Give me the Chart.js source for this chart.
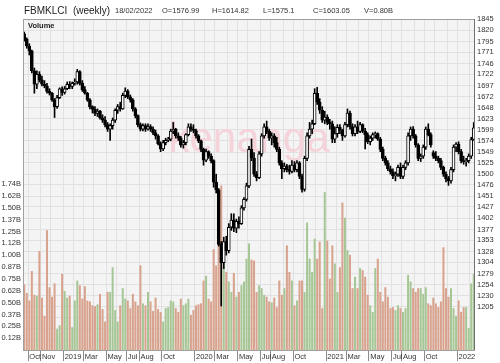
<!DOCTYPE html>
<html>
<head>
<meta charset="utf-8">
<script src="https://cdn.jsdelivr.net/npm/chart.js@4.4.1/dist/chart.umd.min.js"></script>
<style>
    html, body { margin: 0; padding: 0; background: #fff; }
    #wrap { width: 500px; height: 363px; position: relative; }
</style>
</head>
<body>
<div id="wrap"><canvas id="chart"></canvas></div>
<script>
// ==================== DATOS ====================
const symbol = 'FBMKLCI';
const period = '(weekly)';
const firstWeek = '2018-09-21'; // first weekly candle (Friday)

const opens = [
    1812, 1800, 1785, 1774, 1730, 1700, 1722, 1710, 1700, 1696,
    1684, 1680, 1665, 1650, 1670, 1690, 1682, 1690, 1700, 1695,
    1702, 1705, 1728, 1702, 1688, 1680, 1665, 1650, 1644, 1635,
    1640, 1625, 1620, 1610, 1600, 1608, 1620, 1642, 1650, 1645,
    1675, 1685, 1672, 1665, 1645, 1630, 1610, 1600, 1608, 1600,
    1606, 1600, 1592, 1585, 1568, 1556, 1570, 1575, 1578, 1596,
    1600, 1585, 1580, 1565, 1570, 1588, 1605, 1600, 1597, 1585,
    1574, 1555, 1531, 1550, 1540, 1530, 1482, 1465, 1344, 1303,
    1350, 1330, 1382, 1398, 1380, 1395, 1390, 1425, 1444, 1474,
    1555, 1536, 1500, 1492, 1545, 1585, 1605, 1595, 1580, 1585,
    1570, 1555, 1525, 1512, 1518, 1510, 1506, 1520, 1510, 1525,
    1495, 1466, 1535, 1585, 1600, 1612, 1680, 1660, 1642, 1620,
    1627, 1615, 1612, 1578, 1590, 1604, 1598, 1585, 1610, 1636,
    1605, 1590, 1605, 1595, 1610, 1596, 1588, 1572, 1580, 1588,
    1590, 1578, 1555, 1535, 1525, 1512, 1505, 1496, 1500, 1515,
    1495, 1515, 1525, 1585, 1600, 1585, 1565, 1535, 1540, 1560,
    1600, 1588, 1548, 1540, 1535, 1530, 1515, 1500, 1490, 1485,
    1510, 1560, 1567, 1550, 1530, 1528, 1530, 1540, 1576.99
];
const highs = [
    1816, 1803, 1790, 1776, 1736, 1730, 1728, 1718, 1708, 1702,
    1690, 1682, 1668, 1675, 1692, 1694, 1695, 1705, 1706, 1705,
    1712, 1733, 1730, 1708, 1695, 1682, 1668, 1652, 1650, 1645,
    1642, 1632, 1628, 1615, 1612, 1625, 1645, 1655, 1660, 1680,
    1692, 1688, 1676, 1668, 1648, 1632, 1614, 1612, 1612, 1612,
    1610, 1605, 1598, 1588, 1572, 1575, 1580, 1582, 1600, 1615,
    1602, 1592, 1584, 1575, 1590, 1612, 1612, 1610, 1600, 1588,
    1576, 1558, 1556, 1552, 1545, 1532, 1500, 1468, 1350, 1360,
    1362, 1390, 1412, 1412, 1400, 1405, 1430, 1448, 1480, 1562,
    1578, 1548, 1506, 1550, 1590, 1612, 1618, 1600, 1592, 1590,
    1582, 1560, 1530, 1525, 1522, 1520, 1530, 1528, 1530, 1528,
    1500, 1540, 1592, 1615, 1620, 1690, 1693, 1668, 1650, 1640,
    1632, 1622, 1618, 1605, 1610, 1610, 1600, 1615, 1645, 1640,
    1612, 1610, 1618, 1615, 1612, 1602, 1592, 1585, 1592, 1594,
    1592, 1582, 1560, 1540, 1530, 1518, 1512, 1505, 1520, 1525,
    1520, 1530, 1592, 1605, 1606, 1588, 1568, 1545, 1565, 1605,
    1612, 1592, 1552, 1550, 1540, 1535, 1518, 1505, 1495, 1515,
    1565, 1570, 1572, 1555, 1540, 1535, 1545, 1582, 1614.82
];
const lows = [
    1796, 1780, 1765, 1725, 1680, 1690, 1705, 1696, 1692, 1680,
    1676, 1662, 1626, 1646, 1668, 1675, 1678, 1688, 1690, 1690,
    1698, 1700, 1698, 1684, 1678, 1662, 1645, 1636, 1630, 1628,
    1622, 1615, 1605, 1595, 1575, 1600, 1615, 1635, 1640, 1644,
    1670, 1668, 1660, 1640, 1625, 1605, 1596, 1596, 1595, 1598,
    1595, 1588, 1578, 1565, 1550, 1552, 1565, 1572, 1574, 1590,
    1580, 1575, 1560, 1558, 1565, 1585, 1595, 1592, 1580, 1570,
    1550, 1520, 1528, 1535, 1525, 1471, 1458, 1340, 1207, 1290,
    1320, 1325, 1375, 1372, 1370, 1380, 1388, 1420, 1440, 1470,
    1530, 1495, 1485, 1490, 1540, 1580, 1590, 1575, 1565, 1560,
    1550, 1520, 1490, 1505, 1505, 1500, 1503, 1505, 1505, 1490,
    1460, 1462, 1530, 1580, 1590, 1610, 1655, 1635, 1615, 1612,
    1610, 1600, 1570, 1570, 1582, 1590, 1575, 1582, 1605, 1600,
    1585, 1585, 1590, 1592, 1592, 1556, 1568, 1565, 1575, 1580,
    1575, 1550, 1530, 1520, 1508, 1500, 1490, 1485, 1495, 1490,
    1490, 1510, 1520, 1575, 1580, 1560, 1530, 1528, 1535, 1555,
    1585, 1560, 1535, 1530, 1525, 1510, 1495, 1483, 1475, 1480,
    1505, 1550, 1545, 1525, 1522, 1518, 1525, 1535, 1575.1
];
const closes = [
    1800, 1785, 1774, 1730, 1700, 1722, 1710, 1700, 1696, 1684,
    1680, 1665, 1650, 1670, 1690, 1682, 1690, 1700, 1695, 1702,
    1705, 1728, 1702, 1688, 1680, 1665, 1650, 1644, 1635, 1640,
    1625, 1620, 1610, 1600, 1608, 1620, 1642, 1650, 1645, 1675,
    1685, 1672, 1665, 1645, 1630, 1610, 1600, 1608, 1600, 1606,
    1600, 1592, 1585, 1568, 1556, 1570, 1575, 1578, 1596, 1600,
    1585, 1580, 1565, 1570, 1588, 1605, 1600, 1597, 1585, 1574,
    1555, 1531, 1550, 1540, 1530, 1482, 1465, 1344, 1303, 1350,
    1330, 1382, 1398, 1380, 1395, 1390, 1425, 1444, 1474, 1555,
    1536, 1500, 1492, 1545, 1585, 1605, 1595, 1580, 1585, 1570,
    1555, 1525, 1512, 1518, 1510, 1506, 1520, 1510, 1525, 1495,
    1466, 1535, 1585, 1600, 1612, 1680, 1660, 1642, 1620, 1627,
    1615, 1612, 1578, 1590, 1604, 1598, 1585, 1610, 1636, 1605,
    1590, 1605, 1595, 1610, 1596, 1588, 1572, 1580, 1588, 1590,
    1578, 1555, 1535, 1525, 1512, 1505, 1496, 1500, 1515, 1495,
    1515, 1525, 1585, 1600, 1585, 1565, 1535, 1540, 1560, 1600,
    1588, 1565, 1540, 1535, 1530, 1515, 1500, 1490, 1485, 1510,
    1560, 1567, 1550, 1530, 1528, 1530, 1540, 1577, 1603.05
];
// weekly volume, billions
const volumes = [
    0.69, 0.60, 0.52, 0.83, 0.58, 0.57, 1.04, 0.55, 0.36, 1.26,
    0.66, 0.56, 0.70, 0.22, 0.26, 0.80, 0.62, 0.55, 0.57, 0.24,
    0.52, 0.73, 0.68, 0.54, 0.67, 0.52, 0.51, 0.47, 0.46, 0.48,
    0.59, 0.43, 0.30, 0.61, 0.61, 0.87, 0.42, 0.30, 0.47, 0.65,
    0.54, 0.52, 0.44, 0.59, 0.51, 0.47, 0.89, 0.49, 0.47, 0.61,
    0.51, 0.41, 0.55, 0.43, 0.40, 0.30, 0.44, 0.45, 0.52, 0.51,
    0.44, 0.40, 0.54, 0.47, 0.49, 0.54, 0.37, 0.42, 0.47, 0.48,
    0.49, 0.73, 0.78, 0.54, 0.51, 1.06, 0.89, 1.12, 1.73, 1.00,
    0.82, 0.72, 0.61, 0.81, 0.56, 0.61, 0.68, 0.72, 0.96, 1.12,
    0.95, 0.94, 0.61, 0.68, 0.65, 0.58, 0.56, 0.51, 0.50, 0.55,
    0.45, 0.73, 0.58, 0.65, 1.10, 0.82, 0.73, 0.47, 0.52, 0.73,
    0.73, 0.61, 1.34, 0.96, 0.82, 1.17, 0.96, 1.14, 0.44, 1.66,
    1.15, 0.75, 1.10, 0.91, 0.61, 0.87, 1.55, 1.39, 1.05, 1.00,
    0.65, 0.77, 0.65, 0.86, 0.84, 0.77, 0.58, 0.47, 0.40, 0.86,
    0.96, 0.61, 0.51, 0.66, 0.56, 0.44, 0.45, 0.42, 0.47, 0.44,
    0.40, 0.44, 0.79, 0.72, 0.65, 0.61, 0.65, 0.65, 0.59, 0.66,
    0.49, 0.47, 0.55, 0.49, 0.45, 0.51, 1.08, 0.65, 0.56, 0.65,
    0.44, 0.36, 0.52, 0.40, 0.45, 0.45, 0.23, 0.70, 0.80
];

// ejes
const priceTicks = [1845, 1820, 1795, 1771, 1746, 1722, 1697, 1672, 1648, 1623, 1599, 1574, 1549, 1525,
                    1500, 1476, 1451, 1427, 1402, 1377, 1353, 1328, 1304, 1279, 1254, 1230, 1205];
const priceGridOnly = [1181, 1156, 1131];
const volTicks = [0.1246, 0.2492, 0.3738, 0.4984, 0.623, 0.7476, 0.8722, 0.9968,
                  1.1214, 1.246, 1.3706, 1.4952, 1.6198, 1.7444];
const monthLabels = [
    ['2018-10', 'Oct'], ['2018-11', 'Nov'], ['2019-01', '2019'], ['2019-03', 'Mar'],
    ['2019-05', 'May'], ['2019-07', 'Jul'], ['2019-08', 'Aug'], ['2019-10', 'Oct'],
    ['2020-01', '2020'], ['2020-03', 'Mar'], ['2020-05', 'May'], ['2020-07', 'Jul'],
    ['2020-08', 'Aug'], ['2020-10', 'Oct'], ['2021-01', '2021'], ['2021-03', 'Mar'],
    ['2021-05', 'May'], ['2021-07', 'Jul'], ['2021-08', 'Aug'], ['2021-10', 'Oct'],
    ['2022-01', '2022']
];

// ==================== PREPARACIÓN ====================
const FONT = '"Liberation Sans", Arial, sans-serif';
const UP_VOL = '#a6c795';
const DOWN_VOL = '#d8a28d';
const DAY = 86400000;

const weeks = [];     // Friday of each week
const mondays = [];   // Monday of each week, decides the month
const t0 = Date.parse(firstWeek + 'T00:00:00Z');
for (let i = 0; i < closes.length; i++) {
    weeks.push(new Date(t0 + i * 7 * DAY).toISOString().slice(0, 10));
    mondays.push(new Date(t0 + (i * 7 - 4) * DAY).toISOString().slice(0, 7));
}

const labelMap = Object.fromEntries(monthLabels);
const monthStart = mondays.map((m, i) => i > 0 && m !== mondays[i - 1]);
const tickLabel = mondays.map((m, i) => (monthStart[i] && labelMap[m]) || '');

const isUp = closes.map((c, i) => c >= opens[i]);
const bodyColors = isUp.map(u => u ? '#ffffff' : '#000000');
const volColors = isUp.map(u => u ? UP_VOL : DOWN_VOL);

const last = closes.length - 1;
const lastDate = weeks[last].split('-').reverse().join('/');
const headerItems = [
    [lastDate, 115],
    ['O=' + opens[last], 162],
    ['H=' + highs[last], 212],
    ['L=' + lows[last], 263],
    ['C=' + closes[last], 313],
    ['V=' + volumes[last].toFixed(2) + 'B', 364]
];

// ==================== PLUGIN ====================
const framePlugin = {
    id: 'frame',
    beforeDraw(chart) {
        const { ctx, chartArea: a } = chart;
        ctx.save();
        ctx.fillStyle = '#f4f4f4';
        ctx.fillRect(a.left, a.top, a.right - a.left, a.bottom - a.top);
        ctx.restore();
    },
    beforeDatasetsDraw(chart) {
        const { ctx, chartArea: a } = chart;
        ctx.save();
        ctx.font = '42px ' + FONT;
        ctx.fillStyle = '#f5d3db';
        ctx.textAlign = 'center';
        ctx.textBaseline = 'alphabetic';
        ctx.fillText('kenanga', (a.left + a.right) / 2, a.top + 133);
        ctx.restore();
    },
    afterDraw(chart) {
        const { ctx, chartArea: a } = chart;
        ctx.save();
        // marco
        ctx.strokeStyle = '#a0a0a0';
        ctx.lineWidth = 1;
        ctx.strokeRect(a.left + 0.5, a.top + 0.5, a.right - a.left - 1, a.bottom - a.top);
        ctx.strokeStyle = '#707070';
        ctx.beginPath();
        ctx.moveTo(a.right - 0.5, a.top);
        ctx.lineTo(a.right - 0.5, a.bottom);
        ctx.stroke();

        // cabecera
        ctx.textBaseline = 'alphabetic';
        ctx.textAlign = 'left';
        ctx.fillStyle = '#222';
        ctx.font = '10px ' + FONT;
        ctx.fillText(symbol + '  ' + period, 24, 14);
        ctx.fillStyle = '#333';
        ctx.font = '7.5px ' + FONT;
        headerItems.forEach(([txt, x]) => ctx.fillText(txt, x, 13));

        ctx.fillStyle = '#222';
        ctx.font = 'bold 7.5px ' + FONT;
        ctx.fillText('Volume', a.left + 5, a.top + 9);
        ctx.restore();
    }
};

// ==================== CHART ====================
const ctx = document.getElementById('chart').getContext('2d');

const chart = new Chart(ctx, {
    type: 'bar',
    data: {
        labels: weeks,
        datasets: [
            {
                label: 'Body',
                data: opens.map((o, i) => [o, closes[i]]),
                yAxisID: 'y',
                backgroundColor: bodyColors,
                borderColor: '#000',
                borderWidth: 1,
                borderSkipped: false,
                barThickness: 3,
                grouped: false,
                order: 1
            },
            {
                label: 'Wick',
                data: lows.map((l, i) => [l, highs[i]]),
                yAxisID: 'y',
                backgroundColor: '#000',
                barThickness: 1,
                grouped: false,
                order: 2
            },
            {
                label: 'Volume',
                data: volumes,
                yAxisID: 'yv',
                backgroundColor: volColors,
                barPercentage: 0.8,
                categoryPercentage: 1,
                grouped: false,
                order: 3
            }
        ]
    },
    options: {
        animation: false,
        responsive: true,
        maintainAspectRatio: false,
        layout: { padding: { top: 19, left: 0, right: 0, bottom: 0 } },
        plugins: {
            legend: { display: false },
            tooltip: { enabled: false }
        },
        scales: {
            x: {
                type: 'category',
                offset: true,
                border: { display: false },
                grid: {
                    offset: true,
                    drawTicks: true,
                    tickLength: 11,
                    color: c => monthStart[c.index] ? '#e1e1e1' : 'rgba(0,0,0,0)',
                    tickColor: c => tickLabel[c.index] ? '#8c8c8c' : 'rgba(0,0,0,0)'
                },
                ticks: {
                    autoSkip: false,
                    maxRotation: 0,
                    minRotation: 0,
                    align: 'start',
                    padding: -9,
                    color: '#333',
                    font: { size: 7.5, family: FONT },
                    callback: (v, i) => tickLabel[i]
                },
                afterFit: s => { s.height = 13; }
            },
            y: {
                position: 'right',
                min: 1109,
                max: 1845,
                border: { display: false },
                grid: { color: '#e1e1e1', drawTicks: false },
                afterBuildTicks: s => {
                    s.ticks = priceTicks.concat(priceGridOnly).map(v => ({ value: v }));
                },
                ticks: {
                    autoSkip: false,
                    padding: 2,
                    color: '#333',
                    font: { size: 7.5, family: FONT },
                    callback: v => priceTicks.includes(v) ? String(v) : ''
                },
                afterFit: s => { s.width = 25; }
            },
            yv: {
                position: 'left',
                min: 0,
                max: 3.48,
                border: { display: false },
                grid: { display: false, drawTicks: false },
                afterBuildTicks: s => {
                    s.ticks = volTicks.map(v => ({ value: v }));
                },
                ticks: {
                    autoSkip: false,
                    padding: 2,
                    color: '#333',
                    font: { size: 7.5, family: FONT },
                    callback: v => v.toFixed(2) + 'B'
                },
                afterFit: s => { s.width = 23; }
            }
        }
    },
    plugins: [framePlugin]
});
</script>
</body>
</html>
